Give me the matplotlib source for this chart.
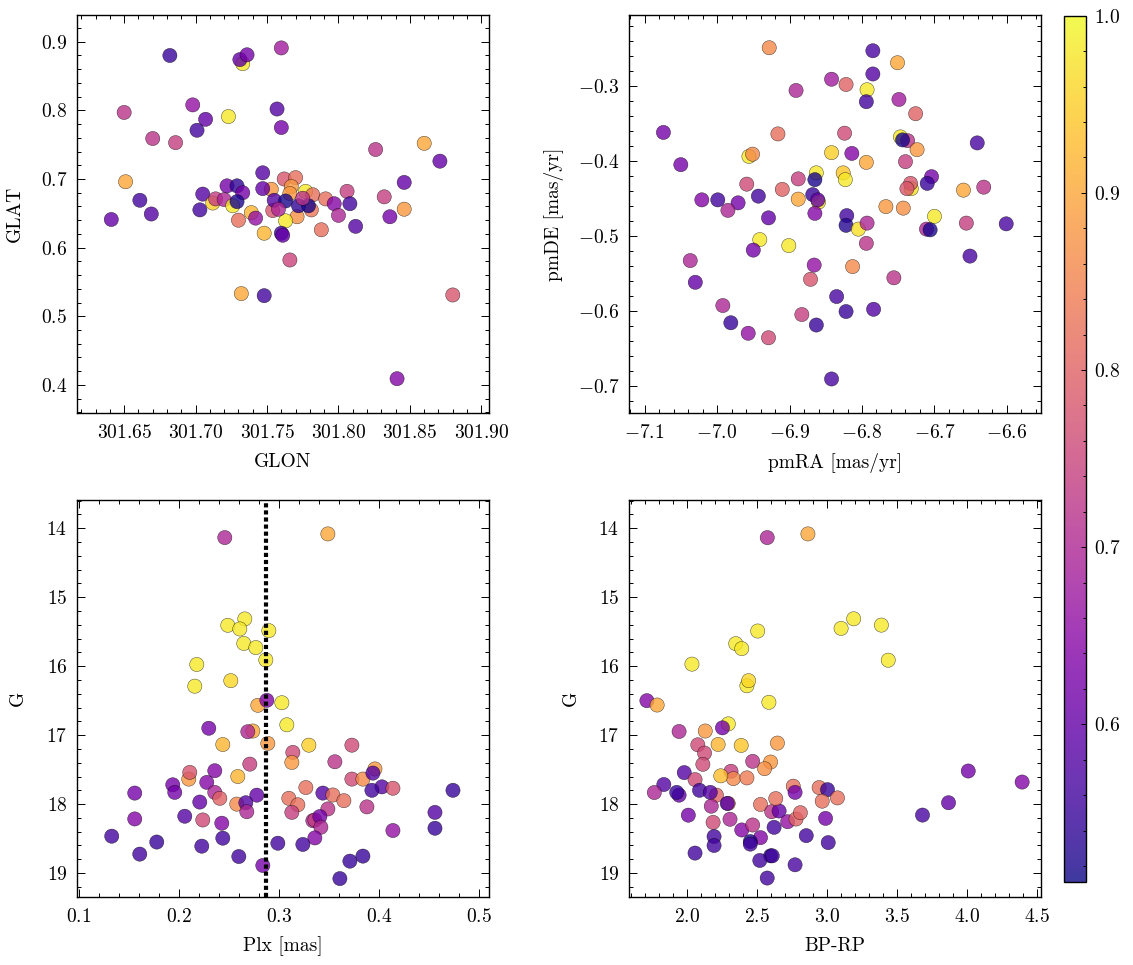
import matplotlib
matplotlib.use("Agg")
import matplotlib.pyplot as plt
from matplotlib.colors import Normalize
from matplotlib.ticker import AutoMinorLocator, MultipleLocator, ScalarFormatter

# sky positions
glon = [301.682, 301.733, 301.731, 301.736, 301.760, 301.650, 301.698, 301.723, 301.707, 301.701,
        301.757, 301.760, 301.670, 301.686, 301.826, 301.860, 301.871, 301.651, 301.661, 301.669,
        301.641, 301.703, 301.705, 301.712, 301.714, 301.720, 301.722, 301.729, 301.733, 301.726,
        301.729, 301.730, 301.739, 301.742, 301.747, 301.753, 301.747, 301.754, 301.755, 301.762,
        301.770, 301.767, 301.766, 301.763, 301.777, 301.782, 301.781, 301.771, 301.772, 301.779,
        301.763, 301.760, 301.761, 301.748, 301.766, 301.791, 301.797, 301.800, 301.788, 301.806,
        301.808, 301.812, 301.832, 301.836, 301.846, 301.846, 301.841, 301.880, 301.732, 301.748,
        301.758, 301.775]
glat = [0.880, 0.868, 0.874, 0.881, 0.891, 0.797, 0.808, 0.791, 0.787, 0.771,
        0.802, 0.775, 0.759, 0.753, 0.743, 0.752, 0.726, 0.696, 0.669, 0.649,
        0.641, 0.655, 0.678, 0.665, 0.671, 0.670, 0.690, 0.690, 0.680, 0.661,
        0.667, 0.640, 0.651, 0.643, 0.709, 0.685, 0.686, 0.654, 0.669, 0.700,
        0.702, 0.689, 0.679, 0.668, 0.682, 0.677, 0.655, 0.645, 0.661, 0.661,
        0.639, 0.621, 0.618, 0.621, 0.582, 0.671, 0.664, 0.647, 0.626, 0.682,
        0.664, 0.631, 0.674, 0.645, 0.695, 0.656, 0.409, 0.531, 0.533, 0.530,
        0.656, 0.672]
p_sky = [0.55, 0.98, 0.60, 0.62, 0.68, 0.72, 0.66, 0.98, 0.60, 0.56,
         0.58, 0.62, 0.72, 0.74, 0.72, 0.90, 0.60, 0.90, 0.56, 0.58,
         0.60, 0.56, 0.58, 0.95, 0.74, 0.70, 0.62, 0.54, 0.62, 0.98,
         0.52, 0.82, 0.92, 0.66, 0.58, 0.88, 0.60, 0.78, 0.58, 0.78,
         0.82, 0.88, 0.88, 0.52, 0.98, 0.82, 0.83, 0.87, 0.54, 0.52,
         0.98, 0.56, 0.60, 0.92, 0.75, 0.82, 0.64, 0.70, 0.82, 0.74,
         0.56, 0.58, 0.74, 0.62, 0.60, 0.88, 0.64, 0.78, 0.90, 0.56,
         0.70, 0.72]

# proper motions
pmra = [-7.074, -7.050, -7.021, -6.999, -6.971, -6.985, -6.959, -6.956, -6.951, -6.943,
        -6.929, -6.916, -6.910, -6.941, -6.950, -7.037, -7.030, -6.992, -6.981, -6.957,
        -6.929, -6.928, -6.891, -6.888, -6.888, -6.901, -6.866, -6.871, -6.883, -6.863,
        -6.842, -6.835, -6.822, -6.784, -6.863, -6.865, -6.868, -6.860, -6.861, -6.865,
        -6.842, -6.842, -6.824, -6.822, -6.826, -6.823, -6.814, -6.821, -6.822, -6.805,
        -6.793, -6.794, -6.813, -6.793, -6.794, -6.785, -6.785, -6.794, -6.751, -6.749,
        -6.726, -6.747, -6.737, -6.744, -6.724, -6.740, -6.732, -6.733, -6.738, -6.767,
        -6.743, -6.756, -6.704, -6.710, -6.700, -6.711, -6.706, -6.660, -6.632, -6.656,
        -6.641, -6.601, -6.651]
pmde = [-0.362, -0.405, -0.452, -0.452, -0.456, -0.466, -0.431, -0.394, -0.391, -0.447,
        -0.476, -0.364, -0.438, -0.505, -0.519, -0.533, -0.562, -0.593, -0.616, -0.630,
        -0.636, -0.249, -0.306, -0.424, -0.451, -0.513, -0.539, -0.558, -0.605, -0.619,
        -0.691, -0.581, -0.601, -0.598, -0.416, -0.425, -0.445, -0.455, -0.452, -0.470,
        -0.291, -0.389, -0.363, -0.298, -0.416, -0.425, -0.390, -0.473, -0.486, -0.491,
        -0.483, -0.510, -0.541, -0.305, -0.321, -0.253, -0.284, -0.402, -0.269, -0.318,
        -0.337, -0.368, -0.373, -0.372, -0.385, -0.401, -0.437, -0.430, -0.437, -0.461,
        -0.463, -0.556, -0.421, -0.430, -0.474, -0.491, -0.492, -0.439, -0.435, -0.483,
        -0.376, -0.484, -0.527]
p_pm = [0.62, 0.62, 0.64, 0.56, 0.62, 0.70, 0.76, 0.98, 0.86, 0.56,
        0.60, 0.82, 0.80, 0.98, 0.62, 0.70, 0.60, 0.70, 0.55, 0.66,
        0.76, 0.86, 0.70, 0.74, 0.90, 0.98, 0.66, 0.78, 0.74, 0.55,
        0.57, 0.57, 0.55, 0.58, 0.98, 0.52, 0.55, 0.97, 0.60, 0.64,
        0.68, 0.95, 0.76, 0.80, 0.94, 0.98, 0.64, 0.56, 0.53, 0.97,
        0.70, 0.72, 0.86, 0.98, 0.56, 0.57, 0.58, 0.90, 0.90, 0.68,
        0.80, 0.98, 0.72, 0.52, 0.88, 0.74, 0.97, 0.78, 0.78, 0.88,
        0.87, 0.72, 0.62, 0.55, 0.98, 0.70, 0.52, 0.90, 0.72, 0.74,
        0.57, 0.57, 0.57]

# parallax vs magnitude
plx = [0.246, 0.349, 0.249, 0.266, 0.261, 0.290, 0.265, 0.277, 0.287, 0.218,
       0.216, 0.252, 0.279, 0.288, 0.303, 0.308, 0.230, 0.274, 0.269, 0.244,
       0.289, 0.330, 0.314, 0.313, 0.373, 0.271, 0.356, 0.210, 0.211, 0.236,
       0.228, 0.259, 0.194, 0.196, 0.156, 0.236, 0.241, 0.221, 0.278, 0.258,
       0.267, 0.268, 0.327, 0.344, 0.354, 0.365, 0.310, 0.319, 0.313, 0.349,
       0.373, 0.384, 0.396, 0.394, 0.403, 0.393, 0.414, 0.388, 0.334, 0.336,
       0.341, 0.342, 0.336, 0.324, 0.299, 0.284, 0.260, 0.244, 0.243, 0.224,
       0.223, 0.206, 0.156, 0.133, 0.161, 0.178, 0.371, 0.384, 0.361, 0.414,
       0.456, 0.456, 0.474]
g_plx = [14.135, 14.082, 15.407, 15.315, 15.460, 15.484, 15.670, 15.730, 15.910, 15.975,
         16.290, 16.210, 16.567, 16.495, 16.530, 16.850, 16.900, 16.940, 16.950, 17.136,
         17.120, 17.145, 17.250, 17.396, 17.145, 17.420, 17.386, 17.637, 17.540, 17.516,
         17.685, 17.600, 17.720, 17.830, 17.840, 17.830, 17.916, 17.970, 17.870, 18.000,
         17.980, 18.110, 17.760, 17.840, 17.868, 17.950, 17.916, 18.010, 18.120, 18.070,
         17.637, 17.637, 17.490, 17.550, 17.750, 17.800, 17.770, 18.040, 18.240, 18.230,
         18.180, 18.335, 18.490, 18.585, 18.567, 18.890, 18.760, 18.494, 18.277, 18.230,
         18.610, 18.176, 18.215, 18.465, 18.725, 18.550, 18.827, 18.754, 19.080, 18.383,
         18.120, 18.350, 17.800]
p_plx = [0.70, 0.90, 0.98, 0.98, 0.98, 0.98, 0.98, 0.98, 0.98, 0.98,
         0.98, 0.96, 0.90, 0.64, 0.98, 0.98, 0.62, 0.90, 0.70, 0.92,
         0.88, 0.95, 0.76, 0.88, 0.76, 0.74, 0.72, 0.88, 0.78, 0.64,
         0.64, 0.92, 0.62, 0.62, 0.62, 0.70, 0.80, 0.60, 0.60, 0.86,
         0.58, 0.70, 0.82, 0.58, 0.82, 0.82, 0.82, 0.82, 0.74, 0.72,
         0.76, 0.86, 0.88, 0.58, 0.58, 0.56, 0.78, 0.72, 0.70, 0.74,
         0.62, 0.70, 0.64, 0.56, 0.56, 0.62, 0.56, 0.56, 0.64, 0.76,
         0.56, 0.58, 0.64, 0.56, 0.56, 0.55, 0.55, 0.55, 0.55, 0.66,
         0.58, 0.55, 0.55]
plx_ref = 0.2867

# colour vs magnitude
bprp = [2.574, 2.865, 2.506, 2.349, 2.392, 2.036, 2.429, 2.441, 2.586, 3.102,
        3.192, 3.390, 3.439, 1.714, 1.787, 1.944, 2.296, 2.254, 2.131, 2.078,
        2.126, 2.114, 2.223, 2.388, 2.647, 2.470, 2.598, 2.555, 2.315, 2.332,
        2.242, 2.429, 1.981, 2.058, 1.835, 1.767, 1.944, 1.927, 2.090, 2.211,
        2.167, 2.174, 2.010, 2.295, 2.288, 2.187, 2.308, 2.392, 2.470, 2.526,
        2.606, 2.659, 2.635, 2.623, 2.720, 2.780, 2.811, 2.760, 2.773, 2.945,
        3.005, 2.967, 3.076, 2.991, 3.010, 2.853, 2.773, 2.574, 2.598, 2.610,
        2.521, 2.526, 2.453, 2.453, 2.194, 2.194, 2.058, 3.684, 3.870, 4.011,
        4.396]
g_col = [14.135, 14.082, 15.490, 15.673, 15.745, 15.970, 16.284, 16.210, 16.524, 15.452,
         15.313, 15.404, 15.913, 16.500, 16.563, 16.947, 16.837, 16.894, 16.940, 17.140,
         17.260, 17.423, 17.135, 17.149, 17.115, 17.380, 17.390, 17.486, 17.524, 17.630,
         17.590, 17.620, 17.543, 17.644, 17.716, 17.832, 17.870, 17.830, 17.800, 17.870,
         17.830, 18.030, 18.160, 17.990, 17.990, 18.265, 18.220, 18.375, 18.303, 18.005,
         18.110, 18.100, 17.920, 18.337, 18.255, 18.216, 18.125, 17.740, 17.830, 17.760,
         17.790, 17.957, 17.910, 18.207, 18.558, 18.457, 18.880, 19.072, 18.750, 18.750,
         18.817, 18.486, 18.543, 18.580, 18.470, 18.600, 18.710, 18.159, 17.980, 17.520,
         17.680]
p_col = [0.70, 0.90, 0.98, 0.98, 0.98, 0.98, 0.98, 0.96, 0.98, 0.98,
         0.98, 0.98, 0.98, 0.64, 0.90, 0.70, 0.98, 0.62, 0.88, 0.76,
         0.76, 0.76, 0.92, 0.94, 0.88, 0.72, 0.88, 0.87, 0.74, 0.86,
         0.93, 0.84, 0.58, 0.76, 0.58, 0.70, 0.60, 0.55, 0.56, 0.80,
         0.58, 0.70, 0.62, 0.80, 0.58, 0.76, 0.70, 0.64, 0.72, 0.82,
         0.72, 0.60, 0.82, 0.56, 0.66, 0.80, 0.80, 0.82, 0.62, 0.82,
         0.55, 0.82, 0.82, 0.62, 0.56, 0.56, 0.57, 0.56, 0.53, 0.56,
         0.56, 0.64, 0.52, 0.56, 0.56, 0.56, 0.56, 0.57, 0.60, 0.62,
         0.64]

plt.rcParams['font.family'] = 'serif'
plt.rcParams['font.serif'] = ['cmr10']
plt.rcParams['mathtext.fontset'] = 'cm'
plt.rcParams['axes.formatter.use_mathtext'] = True
plt.rcParams['font.size'] = 14
plt.rcParams['axes.linewidth'] = 1.0
plt.rcParams['xtick.major.pad'] = 8
plt.rcParams['ytick.major.pad'] = 7

W, H = 1133, 965
fig = plt.figure(figsize=(W / 100, H / 100), dpi=100)


def box(l, t, r, b):
    return [l / W, 1 - b / H, (r - l) / W, (b - t) / H]


ax1 = fig.add_axes(box(77, 15, 488.5, 413))
ax2 = fig.add_axes(box(629, 15, 1041, 413))
ax3 = fig.add_axes(box(77, 500, 489, 897))
ax4 = fig.add_axes(box(629, 500, 1041, 897))
cax = fig.add_axes(box(1064, 15.7, 1086, 882))

norm = Normalize(vmin=0.511, vmax=1.0)
kw = dict(cmap='plasma', norm=norm, s=105, alpha=0.8, edgecolors='k', linewidths=0.3)

sc = ax1.scatter(glon, glat, c=p_sky, **kw)
ax2.scatter(pmra, pmde, c=p_pm, **kw)
ax3.scatter(plx, g_plx, c=p_plx, **kw)
ax4.scatter(bprp, g_col, c=p_col, **kw)
ax3.axvline(plx_ref, color='k', lw=3, ls=(0, (1, 0.7)))

ax1.set_xlim(301.617, 301.905)
ax1.set_ylim(0.359, 0.939)
ax2.set_xlim(-7.1215, -6.553)
ax2.set_ylim(-0.7364, -0.2053)
ax3.set_xlim(0.0983, 0.510)
ax3.set_ylim(19.347, 13.59)
ax4.set_xlim(1.586, 4.531)
ax4.set_ylim(19.347, 13.59)

ax1.set_xlabel('GLON')
ax1.set_ylabel('GLAT')
ax2.set_xlabel('pmRA [mas/yr]')
ax2.set_ylabel('pmDE [mas/yr]')
ax3.set_xlabel('Plx [mas]')
ax3.set_ylabel('G')
ax4.set_xlabel('BP-RP')
ax4.set_ylabel('G')

ylab_x = {ax1: -0.13, ax2: -0.158, ax3: -0.122, ax4: -0.12}
for ax in (ax1, ax2, ax3, ax4):
    for axis in (ax.xaxis, ax.yaxis):
        fmt = ScalarFormatter(useOffset=False, useMathText=True)
        axis.set_major_formatter(fmt)
        axis.set_minor_locator(AutoMinorLocator(5))
    ax.tick_params(which='both', direction='in', top=True, right=True, width=0.7)
    ax.tick_params(which='major', length=5.5)
    ax.tick_params(which='minor', length=2.9)
    ax.xaxis.set_label_coords(0.5, -0.1)
    ax.yaxis.set_label_coords(ylab_x[ax], 0.5)

cb = fig.colorbar(sc, cax=cax)
cb.set_ticks([0.6, 0.7, 0.8, 0.9, 1.0])
cax.yaxis.set_minor_locator(MultipleLocator(0.02))
cax.tick_params(which='both', direction='in', width=0.7, pad=6)
cax.tick_params(which='major', length=3.5)
cax.tick_params(which='minor', length=2)
cb.outline.set_linewidth(1.0)

fig.savefig('out.png', dpi=100)
